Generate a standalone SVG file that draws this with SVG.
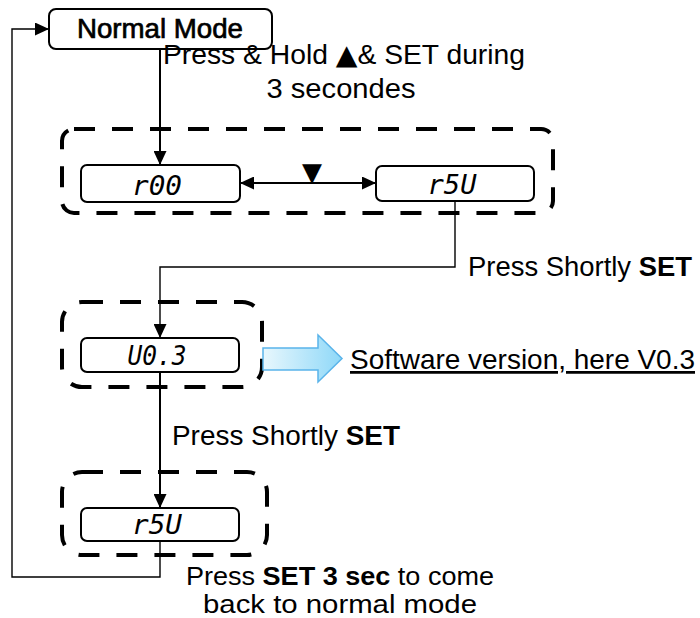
<svg xmlns="http://www.w3.org/2000/svg" width="700" height="618" viewBox="0 0 700 618">
<defs>
<marker id="ah" markerUnits="userSpaceOnUse" markerWidth="14" markerHeight="13" refX="14" refY="6.5" orient="auto-start-reverse">
<path d="M0,0 L14,6.5 L0,13 Z" fill="#000"/>
</marker>
<linearGradient id="blue" x1="0" y1="0" x2="1" y2="0">
<stop offset="0" stop-color="#e8f7fd"/>
<stop offset="1" stop-color="#8ed8f8"/>
</linearGradient>
<style>
.t{font-family:"Liberation Sans",Arial,sans-serif;fill:#000;font-size:27.5px}
.s{font-size:26px}
.b{font-weight:bold}
.box{fill:#fff;stroke:#000;stroke-width:2}
.seg{font-family:"DejaVu Sans Mono","Liberation Mono",monospace;font-style:italic;fill:#000;font-size:27px}
.frame{fill:none;stroke:#000;stroke-width:4;stroke-dasharray:21 17}
.c{fill:none;stroke:#000;stroke-width:2}
.cn{fill:none;stroke:#000;stroke-width:1.4}
</style>
</defs>
<rect width="700" height="618" fill="#fff"/>

<g id="frames">
<rect class="frame" x="62" y="129" width="491" height="84" rx="12"/>
<rect class="frame" x="62" y="302" width="200" height="85" rx="20"/>
<rect class="frame" x="62" y="472" width="205" height="83" rx="20"/>
</g>

<g id="connectors">
<path class="c" d="M160,49 V165" marker-end="url(#ah)"/>
<path class="c" d="M240,183 H376" marker-start="url(#ah)" marker-end="url(#ah)"/>
<path class="cn" d="M455,201 V267 H160 V338" marker-end="url(#ah)"/>
<path class="c" d="M160,372 V508" marker-end="url(#ah)"/>
<path class="cn" d="M160,541 V577 H12 V29 H49" marker-end="url(#ah)"/>
</g>

<g id="normal-mode">
<rect class="box" x="49" y="9" width="223" height="40" rx="7"/>
<text class="t" x="160" y="38" text-anchor="middle" textLength="166" lengthAdjust="spacingAndGlyphs" style="stroke:#000;stroke-width:0.7">Normal Mode</text>
</g>

<g id="label-hold">
<text class="t" x="344" y="64" text-anchor="middle" textLength="362" lengthAdjust="spacingAndGlyphs">Press &amp; Hold <tspan font-family="DejaVu Sans">▲</tspan>&amp; SET during</text>
<text class="t" x="341" y="98" text-anchor="middle" textLength="149" lengthAdjust="spacingAndGlyphs">3 secondes</text>
</g>

<g id="r00">
<rect class="box" x="81" y="165" width="159" height="37" rx="6"/>
<text class="seg" x="157" y="195" text-anchor="middle" textLength="50" lengthAdjust="spacingAndGlyphs">r00</text>
</g>

<g id="down-key">
<text x="312" y="181" font-family="DejaVu Sans,sans-serif" font-size="26" text-anchor="middle">▼</text>
</g>

<g id="r5U-1">
<rect class="box" x="376" y="166" width="158" height="35" rx="6"/>
<text class="seg" x="452" y="194" text-anchor="middle" textLength="49" lengthAdjust="spacingAndGlyphs">r5U</text>
</g>

<g id="label-short-1">
<text class="t" x="468" y="276" textLength="224" lengthAdjust="spacingAndGlyphs">Press Shortly <tspan class="b">SET</tspan></text>
</g>

<g id="U03">
<rect class="box" x="81" y="338" width="158" height="34" rx="6"/>
<text class="seg" x="157" y="365" text-anchor="middle" textLength="59" lengthAdjust="spacingAndGlyphs">U0.3</text>
</g>

<g id="software-arrow">
<polygon points="263,348 318,348 318,335 342,358.5 318,382 318,370 263,370" fill="url(#blue)" stroke="#5ab4ea" stroke-width="1.5"/>
</g>

<g id="label-software">
<text class="t" x="350" y="369" textLength="345" lengthAdjust="spacingAndGlyphs" text-decoration="underline">Software version, here V0.3</text>
</g>

<g id="label-short-2">
<text class="t" x="172" y="445" textLength="228" lengthAdjust="spacingAndGlyphs">Press Shortly <tspan class="b">SET</tspan></text>
</g>

<g id="r5U-2">
<rect class="box" x="81" y="508" width="158" height="33" rx="6"/>
<text class="seg" x="157" y="534" text-anchor="middle" textLength="50" lengthAdjust="spacingAndGlyphs">r5U</text>
</g>

<g id="label-back">
<text class="t s" x="340" y="585" text-anchor="middle" textLength="308" lengthAdjust="spacingAndGlyphs">Press <tspan class="b">SET 3 sec</tspan> to come</text>
<text class="t s" x="340" y="613" text-anchor="middle" textLength="274" lengthAdjust="spacingAndGlyphs">back to normal mode</text>
</g>
</svg>
